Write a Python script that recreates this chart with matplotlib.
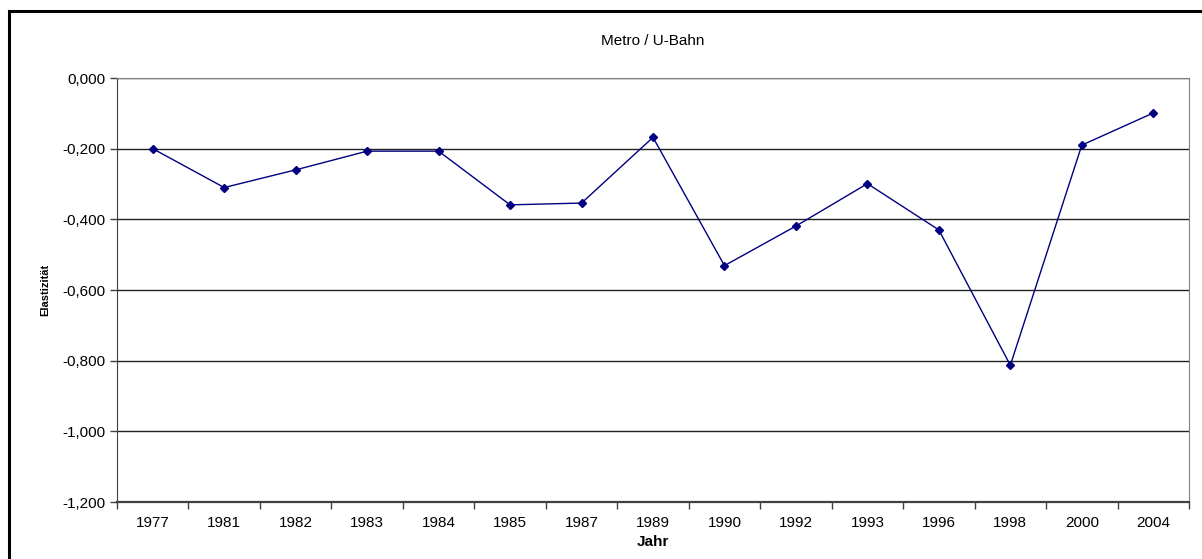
import matplotlib.pyplot as plt
import numpy as np
from matplotlib.patches import Rectangle
from matplotlib.ticker import FuncFormatter, FixedLocator

plt.rcParams['font.family'] = ['Liberation Sans', 'DejaVu Sans']

years = ['1977', '1981', '1982', '1983', '1984', '1985', '1987', '1989',
         '1990', '1992', '1993', '1996', '1998', '2000', '2004']
elast = [-0.200, -0.310, -0.260, -0.207, -0.207, -0.359, -0.354, -0.168,
         -0.531, -0.419, -0.299, -0.430, -0.813, -0.190, -0.099]
yticks = [0.0, -0.2, -0.4, -0.6, -0.8, -1.0, -1.2]

fig = plt.figure(figsize=(12.02, 5.59), dpi=100)
W, H = 1202, 559

# outer chart frame (right and bottom edges fall outside the image)
fig.patches.append(Rectangle((9 / W, -0.2), 1.2, 1.2 - 11 / H, transform=fig.transFigure,
                             fill=False, edgecolor='black', linewidth=2.2))

ax = fig.add_axes([117 / W, 57 / H, (1189 - 117) / W, (502 - 78) / H])

x = np.arange(len(years))
ax.plot(x, elast, color='#000080', linewidth=1.0, marker='D', markersize=4,
        markerfacecolor='#000080', markeredgecolor='#000080')

ax.set_xlim(-0.5, len(years) - 0.5)
ax.set_ylim(-1.2, 0.0)

ax.set_xticks(x)
ax.set_xticklabels(years, fontsize=11)
ax.xaxis.set_minor_locator(FixedLocator(np.arange(-0.5, len(years), 1.0)))
ax.tick_params(axis='x', which='major', length=0, pad=10)
ax.tick_params(axis='x', which='minor', length=5, width=1, color='#404040', direction='out')

ax.set_yticks(yticks)
ax.yaxis.set_major_formatter(FuncFormatter(lambda v, p: f'{v:.3f}'.replace('.', ',')))
ax.tick_params(axis='y', length=5, width=1, color='#404040', labelsize=11, pad=3)

for v in yticks[:-1]:
    ax.axhline(v, color='#222222', linewidth=1.0, zorder=0)

ax.spines['left'].set_color('#404040')
ax.spines['bottom'].set_color('#404040')
ax.spines['bottom'].set_linewidth(1.6)
ax.spines['top'].set_color('#808080')
ax.spines['right'].set_color('#808080')

ax.set_title('Metro / U-Bahn', fontsize=11, pad=24)
ax.set_xlabel('Jahr', fontsize=11, fontweight='bold', labelpad=4)
ax.set_ylabel('Elastizität', fontsize=8, fontweight='bold', labelpad=9)

fig.savefig('out.png', dpi=100)
